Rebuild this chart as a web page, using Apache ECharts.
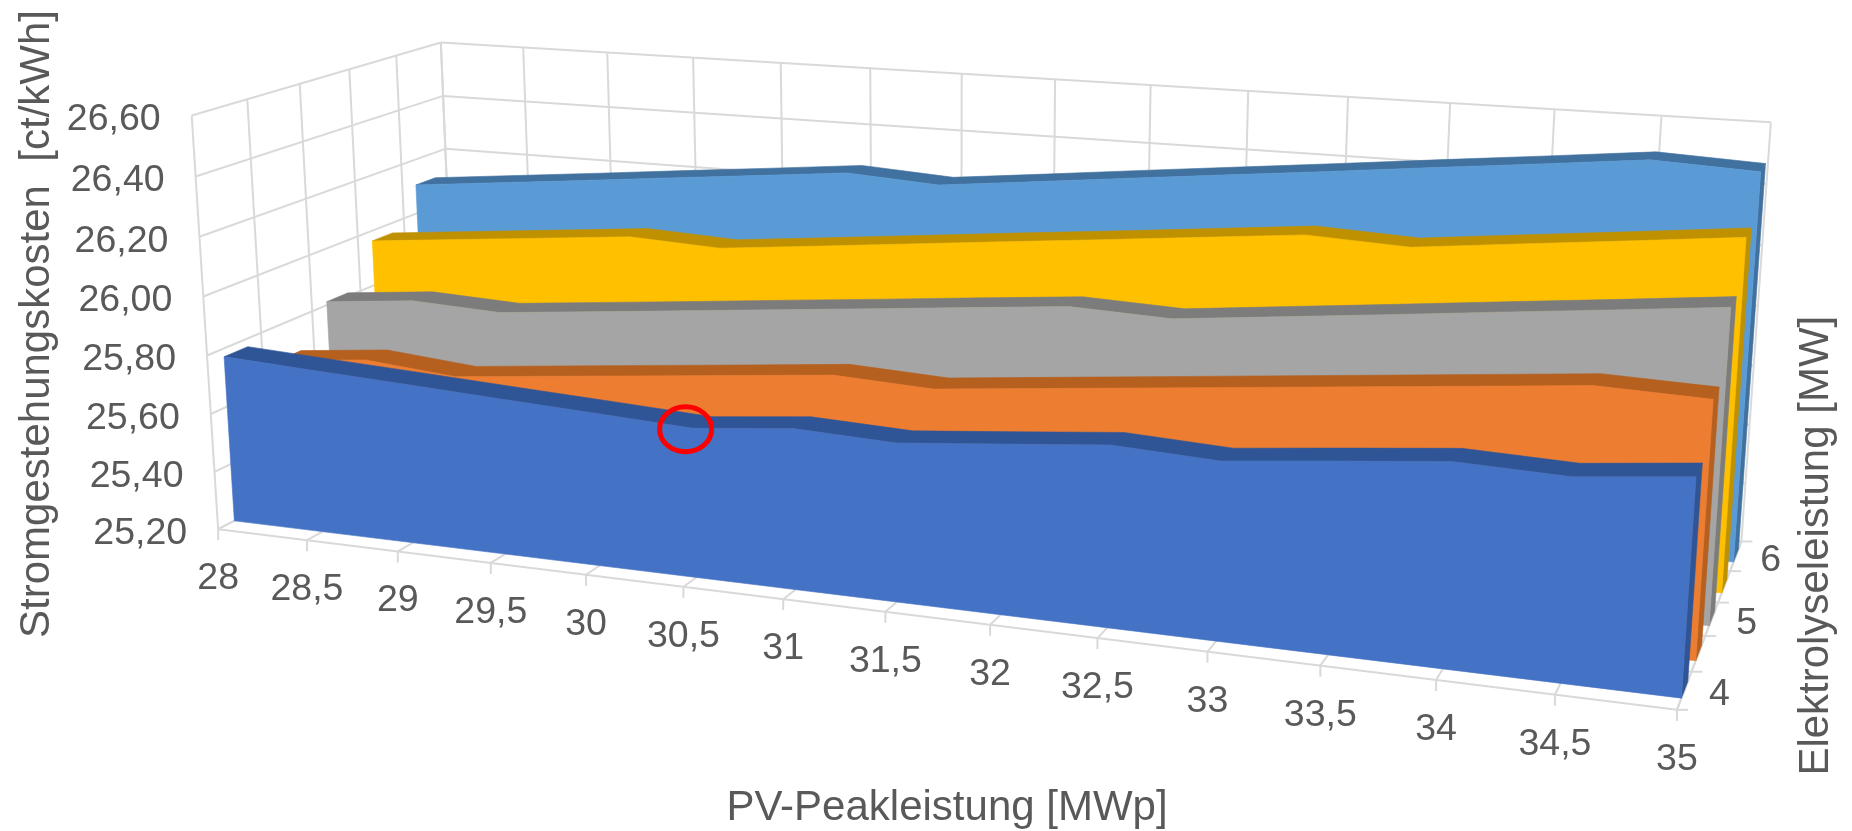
<!DOCTYPE html>
<html><head><meta charset="utf-8">
<style>html,body{margin:0;padding:0;background:#fff}#c{width:1852px;height:831px}</style>
<script src="https://cdn.jsdelivr.net/npm/echarts@6/dist/echarts.min.js"></script>
</head><body><div id="c"></div>
<script>
// ---- data ----
const pvValues = [28,28.5,29,29.5,30,30.5,31,31.5,32,32.5,33,33.5,34,34.5,35];
const pvLabels = ['28','28,5','29','29,5','30','30,5','31','31,5','32','32,5','33','33,5','34','34,5','35'];
const costTicks = [25.2,25.4,25.6,25.8,26.0,26.2,26.4,26.6];
const costLabels = ['25,20','25,40','25,60','25,80','26,00','26,20','26,40','26,60'];
const depthLabels = ['4','','5','','6'];
const series4  = [25.772,25.756,25.741,25.725,25.710,25.694,25.727,25.715,25.746,25.778,25.763,25.798,25.832,25.822,25.858];
const series45 = [25.679,25.712,25.685,25.718,25.751,25.784,25.817,25.803,25.837,25.871,25.905,25.939,25.973,26.007,25.998];
const series5  = [25.812,25.844,25.831,25.863,25.895,25.928,25.960,25.993,26.025,26.014,26.050,26.086,26.123,26.159,26.196];
const series55 = [25.963,25.994,26.025,26.056,26.042,26.075,26.109,26.143,26.176,26.210,26.244,26.230,26.267,26.303,26.340];
const series6  = [26.106,26.138,26.170,26.203,26.235,26.268,26.249,26.284,26.320,26.355,26.390,26.426,26.461,26.497,26.482];
const axisTitleY = 'Stromgestehungskosten  [ct/kWh]';
const axisTitleX = 'PV-Peakleistung [MWp]';
const axisTitleZ = 'Elektrolyseleistung [MW]';

// ---- styling / camera ----
const ribbons = [
  {name:'6',   vals:series6,  depth:4, front:'#5B9BD5', top:'#41719F'},
  {name:'5,5', vals:series55, depth:3, front:'#FFC000', top:'#BF9000'},
  {name:'5',   vals:series5,  depth:2, front:'#A5A5A5', top:'#7C7C7C'},
  {name:'4,5', vals:series45, depth:1, front:'#ED7D31', top:'#B5601F'},
  {name:'4',   vals:series4,  depth:0, front:'#4472C4', top:'#2F5597'}
];
const F0 = 0.30, F1 = 0.74;
const GRID = '#D9D9D9', TXT = '#595959', FONT = '"Liberation Sans", Arial, sans-serif';
const PV0 = 28, PV1 = 35, C0 = 25.2, C1 = 26.6, DN = 5;
// cube corners (normalised pv, cost, depth) -> picture position, the camera is fitted to these
const cam = [
  [0,0,0, 219.5,531.7],[1,0,0,1676.7,708.3],[0,0,1,455,404],[1,0,1,1741.7,543.3],
  [0,1,0,190.5,114.3],[0,1,1,442,44],[1,1,1,1770.7,121.7]
];
function fitCamera(pts){
  const A=[],b=[];
  pts.forEach(([X,Y,Z,u0,v0])=>{const u=u0/1000,v=v0/1000;
    A.push([X,Y,Z,1,0,0,0,0,-u*X,-u*Y,-u*Z]);b.push(u);
    A.push([0,0,0,0,X,Y,Z,1,-v*X,-v*Y,-v*Z]);b.push(v);});
  const n=11,M=[];
  for(let i=0;i<n;i++){M[i]=[];for(let j=0;j<=n;j++){let s=0;
    for(let r=0;r<A.length;r++)s+=A[r][i]*(j<n?A[r][j]:b[r]);M[i][j]=s;}}
  for(let i=0;i<n;i++){let p=i;for(let r=i+1;r<n;r++)if(Math.abs(M[r][i])>Math.abs(M[p][i]))p=r;
    [M[i],M[p]]=[M[p],M[i]];
    for(let r=0;r<n;r++){if(r===i)continue;const f=M[r][i]/M[i][i];for(let j=i;j<=n;j++)M[r][j]-=f*M[i][j];}}
  return M.map((row,i)=>row[n]/row[i]);
}
const P = fitCamera(cam);
function project(pv,cost,d){
  const X=(pv-PV0)/(PV1-PV0),Y=(cost-C0)/(C1-C0),Z=d/DN;
  const w=P[8]*X+P[9]*Y+P[10]*Z+1;
  return [1000*(P[0]*X+P[1]*Y+P[2]*Z+P[3])/w,1000*(P[4]*X+P[5]*Y+P[6]*Z+P[7])/w];
}

function gridLine(a,b,api){
  const p=api.coord(a),q=api.coord(b);
  return {type:'line',shape:{x1:p[0],y1:p[1],x2:q[0],y2:q[1]},style:{stroke:GRID,lineWidth:2}};
}
function renderWalls(params,api){
  const ch=[];
  costTicks.forEach(c=>{
    ch.push(gridLine(project(PV0,c,DN),project(PV1,c,DN),api));
    ch.push(gridLine(project(PV0,c,0),project(PV0,c,DN),api));
  });
  pvValues.forEach(v=>{
    ch.push(gridLine(project(v,C0,DN),project(v,C1,DN),api));
    ch.push(gridLine(project(v,C0,0),project(v,C0,DN),api));
    const f=project(v,C0,0);
    ch.push(gridLine(f,[f[0],f[1]+11],api));
  });
  for(let d=0;d<=DN;d++){
    ch.push(gridLine(project(PV0,C0,d),project(PV0,C1,d),api));
    ch.push(gridLine(project(PV0,C0,d),project(PV1,C0,d),api));
    const r=project(PV1,C0,d);
    ch.push(gridLine(r,[r[0]+11,r[1]],api));
  }
  ch.push(gridLine(project(PV1,C0,0),project(PV1,C0,DN),api));
  return {type:'group',children:ch,silent:true};
}
function poly(pts,api,color){
  return {type:'polygon',shape:{points:pts.map(p=>api.coord(p))},style:{fill:color,stroke:color,lineWidth:0.6}};
}
function renderRibbon(rb){
  return function(params,api){
    if(params.dataIndex!==0) return null;
    const d0=rb.depth+F0,d1=rb.depth+F1,n=pvValues.length;
    const frontTop=pvValues.map((v,i)=>project(v,rb.vals[i],d0));
    const backTop=pvValues.map((v,i)=>project(v,rb.vals[i],d1));
    const side=[project(PV1,C0,d0),frontTop[n-1],backTop[n-1],project(PV1,C0,d1)];
    const topFace=frontTop.concat(backTop.slice().reverse());
    const front=frontTop.concat([project(PV1,C0,d0),project(PV0,C0,d0)]);
    return {type:'group',silent:true,children:[poly(side,api,rb.top),poly(topFace,api,rb.top),poly(front,api,rb.front)]};
  };
}
function label(text,p,api,align,size,rot){
  const c=api.coord(p);
  const el={type:'text',x:c[0],y:c[1],silent:true,
    style:{text:text,fill:TXT,font:size+'px '+FONT,align:align,verticalAlign:'middle'}};
  if(rot) el.rotation=rot;
  return el;
}
function renderLabels(params,api){
  const ch=[];
  costTicks.forEach((c,i)=>{const p=project(PV0,c,0);ch.push(label(costLabels[i],[p[0]-31,p[1]+4.5],api,'right',37.5));});
  pvValues.forEach((v,i)=>{const p=project(v,C0,0);ch.push(label(pvLabels[i],[p[0],p[1]+49.5],api,'center',37.5));});
  depthLabels.forEach((t,i)=>{if(!t)return;const p=project(PV1,C0,i+0.5);ch.push(label(t,[p[0]+35,p[1]+4.5],api,'center',37.5));});
  ch.push(label(axisTitleY,[37,324],api,'center',42,Math.PI/2));
  ch.push(label(axisTitleX,[947,808],api,'center',42));
  ch.push(label(axisTitleZ,[1816,545.7],api,'center',42,Math.PI/2));
  return {type:'group',children:ch,silent:true};
}
function renderRing(params,api){
  const p=project(pvValues[5],series4[5],F0);
  const c=api.coord([p[0]-7.5,p[1]+1]);
  return {type:'ellipse',silent:true,shape:{cx:c[0],cy:c[1],rx:26,ry:22.5},style:{fill:'none',stroke:'#FF0000',lineWidth:5}};
}
const chart=echarts.init(document.getElementById('c'),null,{renderer:'canvas',width:1852,height:831});
const base={type:'custom',coordinateSystem:'cartesian2d',clip:false,animation:false,silent:true,encode:{x:0,y:1}};
chart.setOption({
  animation:false,backgroundColor:'#ffffff',tooltip:{show:false},
  grid:{left:0,right:0,top:0,bottom:0,containLabel:false},
  xAxis:{type:'value',min:0,max:1852,show:false},
  yAxis:{type:'value',min:0,max:831,inverse:true,show:false},
  series:[Object.assign({},base,{name:'Wände',data:[[0,0]],renderItem:renderWalls})]
    .concat(ribbons.map(rb=>Object.assign({},base,{name:rb.name,
      data:pvValues.map((v,i)=>[v,rb.vals[i]]),renderItem:renderRibbon(rb)})))
    .concat([Object.assign({},base,{name:'Beschriftung',data:[[0,0]],renderItem:renderLabels}),
             Object.assign({},base,{name:'Markierung',data:[[0,0]],renderItem:renderRing})])
});
</script></body></html>
